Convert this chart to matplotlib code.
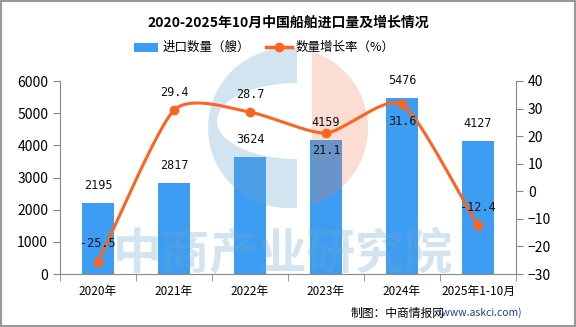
import matplotlib
matplotlib.use("Agg")
import matplotlib.pyplot as plt
import matplotlib.patches as patches
import numpy as np

plt.rcParams["font.family"] = ["Noto Sans CJK SC", "DejaVu Sans"]

categories = ["2020年", "2021年", "2022年", "2023年", "2024年", "2025年1-10月"]
volume = [2195, 2817, 3624, 4159, 5476, 4127]
growth = [-25.5, 29.4, 28.7, 21.1, 31.6, -12.4]
growth_label_below = [False, False, False, True, True, False]

bar_color = "#3d9df2"
line_color = "#fc6420"
axis_color = "#888888"
W, H = 576, 327
mono = ["DejaVu Sans Mono", "DejaVu Sans"]


def fpos(x, y):
    # pixel position (from top-left) -> figure fraction
    return x / W, 1 - y / H


def smooth(xs, ys, n=40, k=0.65):
    # cardinal spline through the data points
    xs = np.asarray(xs, float)
    ys = np.asarray(ys, float)
    px = np.concatenate([[2 * xs[0] - xs[1]], xs, [2 * xs[-1] - xs[-2]]])
    py = np.concatenate([[2 * ys[0] - ys[1]], ys, [2 * ys[-1] - ys[-2]]])
    t = np.linspace(0, 1, n)
    h00 = 2 * t ** 3 - 3 * t ** 2 + 1
    h10 = t ** 3 - 2 * t ** 2 + t
    h01 = -2 * t ** 3 + 3 * t ** 2
    h11 = t ** 3 - t ** 2
    out_x, out_y = [], []
    for i in range(1, len(px) - 2):
        for arr, out in ((px, out_x), (py, out_y)):
            m1 = k * (arr[i + 1] - arr[i - 1]) / 2
            m2 = k * (arr[i + 2] - arr[i]) / 2
            out.extend(h00 * arr[i] + h10 * m1 + h01 * arr[i + 1] + h11 * m2)
    return np.array(out_x), np.array(out_y)


fig = plt.figure(figsize=(W / 100, H / 100), dpi=100)
fig.patches.append(patches.Rectangle((0.001, 0.002), 0.997, 0.995, transform=fig.transFigure,
                                     fill=False, edgecolor="#999999", linewidth=1.5))

ax = fig.add_axes([60 / W, 1 - 274 / H, 456 / W, 193 / H])
ax2 = ax.twinx()
ax.patch.set_alpha(0)
ax2.patch.set_alpha(0)

x = np.arange(len(categories))

ax.bar(x, volume, width=0.41, color=bar_color, zorder=2)

# watermark logo (between bars and line): blue "C" left, salmon half disc right
cx, cy, r = 288, 128, 80
ang = np.linspace(np.pi / 2, 3 * np.pi / 2, 60)
outer = [(cx + r * np.cos(a), cy - r * np.sin(a)) for a in ang]
inner_ang = np.linspace(3 * np.pi / 2, np.pi / 2, 60)
inner = [(297 + 80 * np.cos(a), 121 - 38 * np.sin(a)) for a in inner_ang]
blue_pts = [(cx, cy - r)] + outer + [(297, cy + r), (297, 159)] + inner + [(297, 83), (297, cy - r)]
ax2.add_patch(patches.Polygon([fpos(px, py) for px, py in blue_pts], closed=True,
                              transform=fig.transFigure, facecolor="#6aa6cc", alpha=0.3,
                              edgecolor="none", zorder=1, clip_on=False))
xcut = 312
a0 = np.arccos((xcut - cx) / r)
ang2 = np.linspace(a0, -a0, 60)
salmon_pts = [(cx + r * np.cos(a), cy - r * np.sin(a)) for a in ang2]
ax2.add_patch(patches.Polygon([fpos(px, py) for px, py in salmon_pts], closed=True,
                              transform=fig.transFigure, facecolor="#f07850", alpha=0.25,
                              edgecolor="none", zorder=1, clip_on=False))
ax2.text(*fpos(283, 255), "中商产业研究院", transform=fig.transFigure, fontsize=35,
         color="#6aa6cc", alpha=0.3, ha="center", va="center", fontweight="bold", zorder=1)

sx, sy = smooth(x, growth)
ax2.plot(sx, sy, color=line_color, linewidth=2.2, zorder=3)
ax2.plot(x, growth, "o", color=line_color, markersize=6, zorder=4)

for xi, v in zip(x, volume):
    ax2.text(xi, v + 350, str(v), transform=ax.transData, ha="center", va="bottom",
             fontsize=8.5, color="#111111", family=mono, zorder=6)
for xi, g, below in zip(x, growth, growth_label_below):
    if below:
        ax2.text(xi, g - 3.8, f"{g:.1f}", ha="center", va="top", fontsize=8.5, color="#111111",
                 family=mono, zorder=6)
    else:
        ax2.text(xi, g + 4.2, f"{g:.1f}", ha="center", va="bottom", fontsize=8.5, color="#111111",
                 family=mono, zorder=6)

ax.set_xlim(-0.5, len(categories) - 0.5)
ax.set_ylim(0, 6000)
ax.set_yticks(range(0, 6001, 1000))
ax2.set_ylim(-30, 40)
ax2.set_yticks(range(-30, 41, 10))

ax.set_xticks(x)
ax.set_xticklabels(categories, fontsize=8.5)
ax.set_xticks(np.arange(-0.5, len(categories), 1), minor=True)
ax.tick_params(axis="x", which="major", length=0, pad=8)
ax.tick_params(axis="x", which="minor", length=5, color=axis_color)
ax.tick_params(axis="y", length=5, color=axis_color, labelsize=10)
ax2.tick_params(axis="y", length=5, color=axis_color, labelsize=10)

for a in (ax, ax2):
    a.spines["top"].set_visible(False)
    for s in ("left", "right", "bottom"):
        a.spines[s].set_color(axis_color)
ax.spines["right"].set_visible(False)
ax2.spines["left"].set_visible(False)
ax2.spines["bottom"].set_visible(False)

fig.text(0.5, 1 - 23 / H, "2020-2025年10月中国船舶进口量及增长情况", ha="center", va="center",
         fontsize=10, fontweight="bold")

# legend
fig.patches.append(patches.Rectangle(fpos(134, 52), 24 / W, 9 / H,
                                     transform=fig.transFigure, facecolor=bar_color, edgecolor="none"))
fig.text(*fpos(163, 47), "进口数量（艘）", ha="left", va="center", fontsize=9)
fig.lines.append(plt.Line2D([266 / W, 292 / W], [1 - 47 / H, 1 - 47 / H],
                            transform=fig.transFigure, color=line_color, linewidth=2.5))
fig.lines.append(plt.Line2D([279 / W], [1 - 47 / H], transform=fig.transFigure,
                            marker="o", color=line_color, markersize=6))
fig.text(*fpos(296, 47), "数量增长率（%）", ha="left", va="center", fontsize=9)

fig.text(*fpos(351, 313), "制图：中商情报网", ha="left", va="center", fontsize=8.5)
fig.text(*fpos(438, 313), "(www.askci.com)", ha="left", va="center", fontsize=7.5, color="#1f3f8f")

fig.savefig("out.png", dpi=100)
